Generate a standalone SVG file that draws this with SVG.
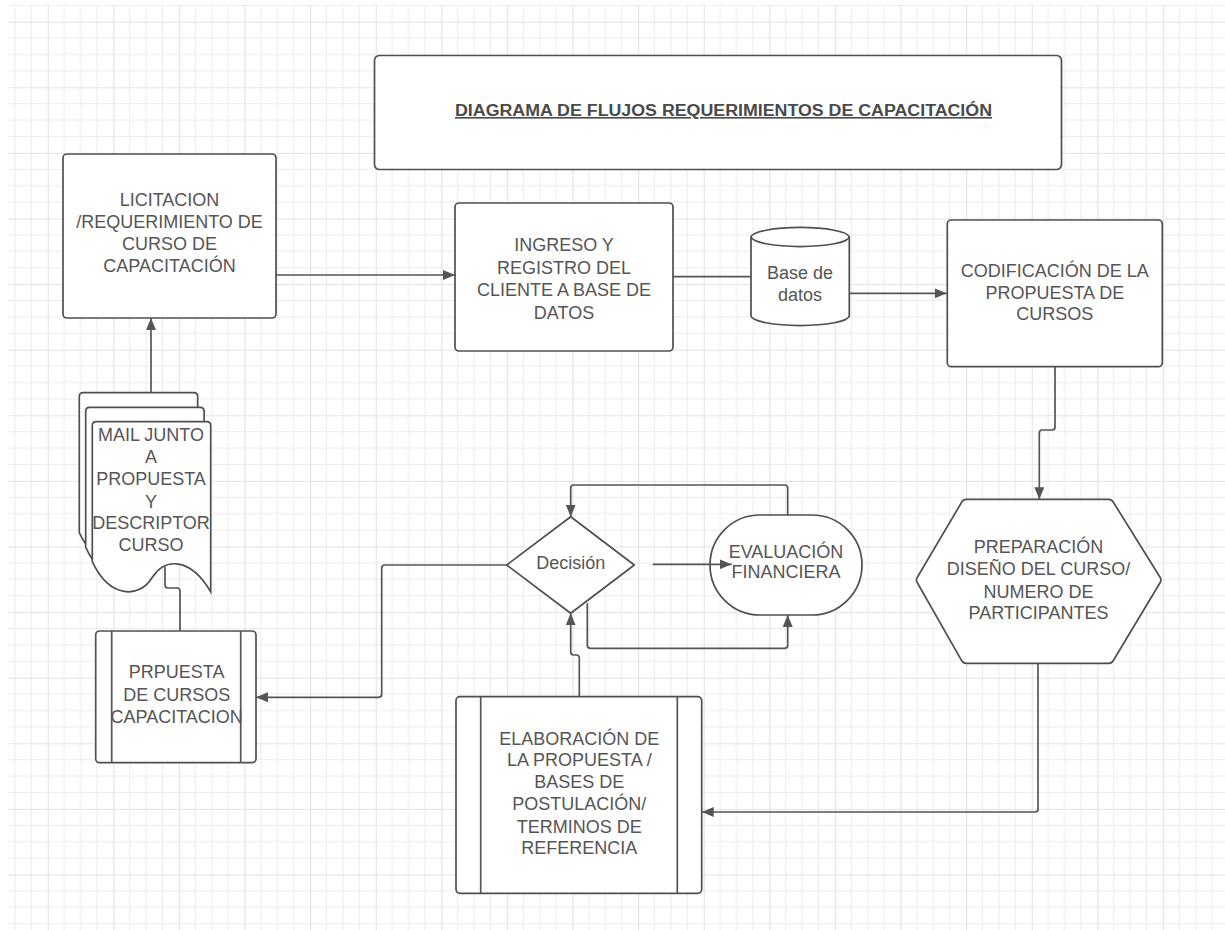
<svg xmlns="http://www.w3.org/2000/svg" width="1225" height="930" viewBox="0 0 1225 930">
  <defs>
    <pattern id="grid" x="-17.9" y="21.7" width="65.6" height="65.6" patternUnits="userSpaceOnUse">
      <path d="M16.4,0V65.6M32.8,0V65.6M49.2,0V65.6M0,16.4H65.6M0,32.8H65.6M0,49.2H65.6" fill="none" stroke="#ececec" stroke-width="1"/>
      <path d="M0.5,0V65.6M0,0.5H65.6" fill="none" stroke="#e2e2e2" stroke-width="1.2"/>
    </pattern>
    <marker id="arrow" viewBox="0 0 12 10" refX="12" refY="5" markerWidth="12" markerHeight="10" markerUnits="userSpaceOnUse" orient="auto">
      <path d="M0,0L12,5L0,10z" fill="#555"/>
    </marker>
    <path id="doc" d="M0,140 V4 Q0,0 4,0 H114.4 Q118.4,0 118.4,4 V170 C97.7,135 72.7,136 59.7,156 C47.7,176 17.7,178 0,140 Z"/>
  </defs>
  <style>
    .shape { fill: #fff; stroke: #4f4f4f; stroke-width: 1.7; }
    .line { fill: none; stroke: #555; stroke-width: 1.7; }
    .lbl { font-family: "Liberation Sans", Arial, sans-serif; font-size: 18px; fill: #555; text-anchor: middle; }
    .title { font-family: "Liberation Sans", Arial, sans-serif; font-size: 16px; font-weight: bold; fill: #4a4a4a; text-anchor: middle; text-decoration: underline; }
  </style>

  <rect width="1225" height="930" fill="#fff"/>
  <rect x="8" y="5" width="1217" height="925" fill="url(#grid)"/>

  <g id="title">
    <rect class="shape" x="374.5" y="55.5" width="687" height="114" rx="5"/>
    <text class="title" x="723.5" y="116" textLength="537" lengthAdjust="spacingAndGlyphs">DIAGRAMA DE FLUJOS REQUERIMIENTOS DE CAPACITACIÓN</text>
  </g>

  <g id="licitacion">
    <rect class="shape" x="63" y="154" width="213" height="164" rx="4"/>
    <text class="lbl" x="169.5" y="206">LICITACION</text>
    <text class="lbl" x="169.5" y="228">/REQUERIMIENTO DE</text>
    <text class="lbl" x="169.5" y="250">CURSO DE</text>
    <text class="lbl" x="169.5" y="272">CAPACITACIÓN</text>
  </g>

  <g id="ingreso">
    <rect class="shape" x="455" y="203" width="218" height="148" rx="4"/>
    <text class="lbl" x="564" y="251">INGRESO Y</text>
    <text class="lbl" x="564" y="274">REGISTRO DEL</text>
    <text class="lbl" x="564" y="296">CLIENTE A BASE DE</text>
    <text class="lbl" x="564" y="319">DATOS</text>
  </g>

  <g id="base-datos">
    <path class="shape" d="M751,237V316A49.2,10 0 0 0 849.3,316V237A49.2,10 0 0 0 751,237Z"/>
    <path class="shape" d="M751,237A49.2,10 0 0 0 849.3,237" fill="none"/>
    <text class="lbl" x="800" y="279">Base de</text>
    <text class="lbl" x="800" y="301">datos</text>
  </g>

  <g id="codificacion">
    <rect class="shape" x="947.3" y="220" width="215" height="146.7" rx="4"/>
    <text class="lbl" x="1054.8" y="277">CODIFICACIÓN DE LA</text>
    <text class="lbl" x="1054.8" y="299.3">PROPUESTA DE</text>
    <text class="lbl" x="1054.8" y="320.3">CURSOS</text>
  </g>

  <g id="preparacion">
    <path class="shape" d="M966.3,499.3H1108.7Q1111.7,499.3 1113.2,502L1160.2,577.5Q1161.7,580 1160.2,582.5L1113.2,660.8Q1111.7,663.3 1108.7,663.3H966.3Q963.3,663.3 961.8,660.8L917.2,582.5Q915.7,580 917.2,577.5L961.8,502Q963.3,499.3 966.3,499.3Z"/>
    <text class="lbl" x="1038.5" y="552.7">PREPARACIÓN</text>
    <text class="lbl" x="1038.5" y="575.3">DISEÑO DEL CURSO/</text>
    <text class="lbl" x="1038.5" y="597.7">NUMERO DE</text>
    <text class="lbl" x="1038.5" y="619.3">PARTICIPANTES</text>
  </g>

  <g id="decision">
    <path class="shape" d="M570.7,516.7L634.3,565L570.7,613.3L506.7,565Z" stroke-linejoin="round"/>
    <text class="lbl" x="570.7" y="568.7">Decisión</text>
  </g>

  <g id="evaluacion">
    <rect class="shape" x="710" y="515" width="152" height="100" rx="50"/>
    <text class="lbl" x="786" y="557.7">EVALUACIÓN</text>
    <text class="lbl" x="786" y="577.7">FINANCIERA</text>
  </g>

  <g id="elaboracion">
    <rect class="shape" x="456" y="696.7" width="245.7" height="196.6" rx="4"/>
    <path class="line" d="M480.7,696.7V893.3M677.3,696.7V893.3"/>
    <text class="lbl" x="579.3" y="745">ELABORACIÓN DE</text>
    <text class="lbl" x="579.3" y="766">LA PROPUESTA /</text>
    <text class="lbl" x="579.3" y="787.7">BASES DE</text>
    <text class="lbl" x="579.3" y="810.3">POSTULACIÓN/</text>
    <text class="lbl" x="579.3" y="832.7">TERMINOS DE</text>
    <text class="lbl" x="579.3" y="854.3">REFERENCIA</text>
  </g>

  <g id="mail-documentos">
    <use href="#doc" class="shape" x="79.3" y="392.7"/>
    <use href="#doc" class="shape" x="85.7" y="407.3"/>
    <use href="#doc" class="shape" x="92.3" y="421.7"/>
    <text class="lbl" x="151" y="441">MAIL JUNTO</text>
    <text class="lbl" x="151" y="463.3">A</text>
    <text class="lbl" x="151" y="485">PROPUESTA</text>
    <text class="lbl" x="151" y="507.7">Y</text>
    <text class="lbl" x="151" y="529.3">DESCRIPTOR</text>
    <text class="lbl" x="151" y="551">CURSO</text>
  </g>

  <g id="prpuesta">
    <rect class="shape" x="95.7" y="631" width="160.3" height="131.7" rx="4"/>
    <path class="line" d="M111.7,631V762.7M240.7,631V762.7"/>
    <text class="lbl" x="176.7" y="678.3">PRPUESTA</text>
    <text class="lbl" x="176.7" y="701">DE CURSOS</text>
    <text class="lbl" x="176.7" y="722.7">CAPACITACION</text>
  </g>

  <!-- connectors, drawn last so arrowheads sit on top of the shapes -->
  <g id="connectors">
    <path class="line" d="M276,275H455" marker-end="url(#arrow)"/>
    <path class="line" d="M673,276.7H751"/>
    <path class="line" d="M849.3,293.3H946.7" marker-end="url(#arrow)"/>
    <path class="line" d="M1055,366.7V427Q1055,430 1052,430H1042.3Q1039.3,430 1039.3,433V499.3" marker-end="url(#arrow)"/>
    <path class="line" d="M1038,663.3V809Q1038,812 1035,812H701.7" marker-end="url(#arrow)"/>
    <path class="line" d="M579.3,696.7V658Q579.3,655 576.3,655H573.7Q570.7,655 570.7,652V613.3" marker-end="url(#arrow)"/>
    <path class="line" d="M652.7,564.3H731.7" marker-end="url(#arrow)"/>
    <path class="line" d="M787.7,515V488Q787.7,485 784.7,485H573.7Q570.7,485 570.7,488V516.7" marker-end="url(#arrow)"/>
    <path class="line" d="M587.3,603.3V645.3Q587.3,648.3 590.3,648.3H784.7Q787.7,648.3 787.7,645.3V615" marker-end="url(#arrow)"/>
    <path class="line" d="M506.7,565H385Q381.7,565 381.7,568V694.3Q381.7,697.3 378.7,697.3H256" marker-end="url(#arrow)"/>
    <path class="line" d="M151,392.7V318" marker-end="url(#arrow)"/>
    <path class="line" d="M165,567V585Q165,588 168,588H177Q180,588 180,591V631"/>
  </g>
</svg>
